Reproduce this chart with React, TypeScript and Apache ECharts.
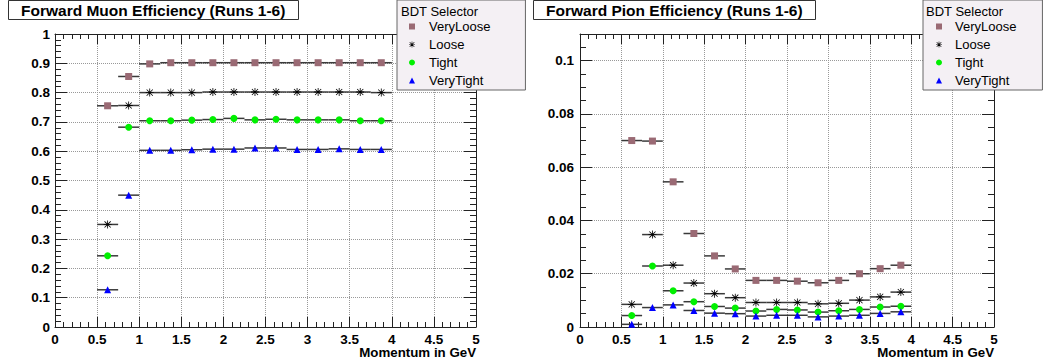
import React, { useEffect, useRef } from "react";
import * as echarts from "echarts";

// ---------- data ----------
const binCenters = [0.625, 0.875, 1.125, 1.375, 1.625, 1.875, 2.125, 2.375, 2.625, 2.875, 3.125, 3.375, 3.625, 3.875];
const binHalfWidth = 0.125;
const selectorNames = ["VeryLoose", "Loose", "Tight", "VeryTight"];

const muonVeryLoose = [0.755, 0.855, 0.898, 0.902, 0.902, 0.902, 0.902, 0.902, 0.902, 0.902, 0.902, 0.902, 0.902, 0.902];
const muonLoose = [0.35, 0.756, 0.8, 0.8, 0.8, 0.802, 0.802, 0.802, 0.802, 0.802, 0.802, 0.802, 0.802, 0.8];
const muonTight = [0.243, 0.682, 0.704, 0.704, 0.706, 0.708, 0.712, 0.707, 0.709, 0.707, 0.707, 0.707, 0.704, 0.704];
const muonVeryTight = [0.127, 0.45, 0.603, 0.603, 0.605, 0.607, 0.607, 0.611, 0.611, 0.606, 0.606, 0.608, 0.606, 0.606];

const pionVeryLoose = [0.07, 0.0698, 0.0545, 0.0351, 0.0267, 0.0218, 0.0175, 0.0175, 0.0172, 0.0166, 0.0175, 0.02, 0.0219, 0.0232];
const pionLoose = [0.0085, 0.0347, 0.0232, 0.0165, 0.0125, 0.011, 0.0092, 0.0092, 0.0092, 0.0087, 0.0089, 0.0101, 0.0113, 0.0131];
const pionTight = [0.0043, 0.0229, 0.0136, 0.0095, 0.0077, 0.0071, 0.006, 0.0066, 0.0064, 0.0056, 0.0061, 0.0066, 0.0075, 0.0078];
const pionVeryTight = [0.001, 0.0073, 0.0083, 0.0062, 0.0052, 0.005, 0.0041, 0.0044, 0.0044, 0.0038, 0.0041, 0.0044, 0.0051, 0.0057];

const xTicksMax = 5;
const muonYMax = 1;
const pionYMax = 0.11;

// ---------- styles ----------
const FONT = '"Liberation Sans", Arial, Helvetica, sans-serif';
const AXIS_COLOR = "#222";
const STAR_PATH =
  "path://M4.5,0 L5.5,0 L5.5,10 L4.5,10 Z M0,4.5 L10,4.5 L10,5.5 L0,5.5 Z M1.5,0.8 L9.2,8.5 L8.5,9.2 L0.8,1.5 Z M8.5,0.8 L9.2,1.5 L1.5,9.2 L0.8,8.5 Z";

const markerStyles: Record<string, { symbol: string; size: number; color: string }> = {
  VeryLoose: { symbol: "rect", size: 7, color: "#9a6a74" },
  Loose: { symbol: STAR_PATH, size: 8, color: "#000000" },
  Tight: { symbol: "circle", size: 7, color: "#00f000" },
  VeryTight: { symbol: "triangle", size: 7, color: "#0000ff" },
};

function makeXAxis(gridIndex: number, position: string, main: boolean) {
  return {
    type: "value",
    gridIndex,
    position,
    min: 0,
    max: xTicksMax,
    interval: 0.5,
    axisLine: { show: true, onZero: false, lineStyle: { color: AXIS_COLOR, width: 1 } },
    axisTick: { show: true, inside: true, length: 10, lineStyle: { color: AXIS_COLOR } },
    minorTick: { show: true, splitNumber: 5, length: 5, lineStyle: { color: AXIS_COLOR } },
    axisLabel: {
      show: main,
      fontFamily: FONT,
      fontWeight: "bold",
      fontSize: 13.5,
      color: "#000",
      margin: 5,
    },
    splitLine: { show: main, lineStyle: { color: "#999", type: "dotted", width: 1 } },
    minorSplitLine: { show: false },
  };
}

function makeYAxis(gridIndex: number, position: string, main: boolean, max: number, interval: number, minorSplit: number, margin: number) {
  return {
    type: "value",
    gridIndex,
    position,
    min: 0,
    max,
    interval,
    axisLine: { show: true, onZero: false, lineStyle: { color: AXIS_COLOR, width: 1 } },
    axisTick: { show: true, inside: true, length: 12, lineStyle: { color: AXIS_COLOR } },
    minorTick: { show: true, splitNumber: minorSplit, length: 6, lineStyle: { color: AXIS_COLOR } },
    axisLabel: {
      show: main,
      showMaxLabel: max === 1,
      fontFamily: FONT,
      fontWeight: "bold",
      fontSize: 13.5,
      color: "#000",
      margin,
    },
    splitLine: { show: main, lineStyle: { color: "#999", type: "dotted", width: 1 } },
    minorSplitLine: { show: false },
  };
}

function makeSeries(name: string, values: number[], xAxisIndex: number, yAxisIndex: number) {
  const data = binCenters.map((x, i) => [x, values[i]]);
  const m = markerStyles[name];
  const errBars = {
    type: "custom",
    name: name + " errors",
    xAxisIndex,
    yAxisIndex,
    data,
    z: 2,
    silent: true,
    renderItem: (params: any, api: any) => {
      const x = api.value(0);
      const y = api.value(1);
      const p1 = api.coord([x - binHalfWidth, y]);
      const p2 = api.coord([x + binHalfWidth, y]);
      return {
        type: "line",
        shape: { x1: p1[0], y1: p1[1], x2: p2[0], y2: p2[1] },
        style: { stroke: "#3a3a3a", lineWidth: 1.5 },
      };
    },
  };
  const markers = {
    type: "scatter",
    name,
    xAxisIndex,
    yAxisIndex,
    data,
    z: 3,
    symbol: m.symbol,
    symbolSize: m.size,
    itemStyle: { color: m.color, opacity: 1 },
  };
  return [errBars, markers];
}

function makeLegend(left: number, padLeft: number, padRight: number, textPad: number) {
  return {
    orient: "vertical",
    left,
    top: 0,
    padding: [20, padRight, 3, padLeft],
    itemGap: 5,
    itemWidth: 6,
    itemHeight: 6,
    selectedMode: false,
    backgroundColor: "#f4f0f4",
    borderColor: "#666",
    borderWidth: 1,
    borderRadius: 0,
    textStyle: { fontFamily: FONT, fontSize: 13, color: "#000", padding: [0, 0, 0, textPad] },
    data: selectorNames,
  };
}

function makeTitle(text: string, left: number) {
  return {
    text,
    left,
    top: 0,
    padding: [2, 13, 2, 13],
    backgroundColor: "#fff",
    borderColor: "#333",
    borderWidth: 1,
    textStyle: { fontFamily: FONT, fontWeight: "bold", fontSize: 15.5, color: "#000" },
  };
}

export default function App() {
  const ref = useRef<HTMLDivElement>(null);
  useEffect(() => {
    if (!ref.current) return;
    const chart = echarts.init(ref.current, undefined, { renderer: "svg" });
    const option: any = {
      animation: false,
      backgroundColor: "#ffffff",
      title: [
        makeTitle("Forward Muon Efficiency (Runs 1-6)", 8),
        makeTitle("Forward Pion Efficiency (Runs 1-6)", 533),
      ],
      legend: [makeLegend(397, 12, 35, 9), makeLegend(923, 13, 26, 8)],
      grid: [
        { left: 55, top: 34, width: 421, height: 293 },
        { left: 580, top: 34, width: 414, height: 293 },
      ],
      xAxis: [
        makeXAxis(0, "bottom", true),
        makeXAxis(0, "top", false),
        makeXAxis(1, "bottom", true),
        makeXAxis(1, "top", false),
      ],
      yAxis: [
        makeYAxis(0, "left", true, muonYMax, 0.1, 5, 5),
        makeYAxis(0, "right", false, muonYMax, 0.1, 5, 5),
        makeYAxis(1, "left", true, pionYMax, 0.02, 4, 6),
        makeYAxis(1, "right", false, pionYMax, 0.02, 4, 6),
      ],
      series: [
        ...makeSeries("VeryLoose", muonVeryLoose, 0, 0),
        ...makeSeries("Loose", muonLoose, 0, 0),
        ...makeSeries("Tight", muonTight, 0, 0),
        ...makeSeries("VeryTight", muonVeryTight, 0, 0),
        ...makeSeries("VeryLoose", pionVeryLoose, 2, 2),
        ...makeSeries("Loose", pionLoose, 2, 2),
        ...makeSeries("Tight", pionTight, 2, 2),
        ...makeSeries("VeryTight", pionVeryTight, 2, 2),
      ],
      graphic: {
        elements: [
          { type: "text", left: 401, top: 5, z: 100, style: { text: "BDT Selector", fontSize: 13, fontFamily: FONT, fill: "#000" } },
          { type: "text", left: 926, top: 5, z: 100, style: { text: "BDT Selector", fontSize: 13, fontFamily: FONT, fill: "#000" } },
          { type: "text", right: 1051 - 476, top: 346, z: 100, style: { text: "Momentum in GeV", fontSize: 13.3, fontWeight: "bold", fontFamily: FONT, fill: "#000" } },
          { type: "text", right: 1051 - 994, top: 346, z: 100, style: { text: "Momentum in GeV", fontSize: 13.3, fontWeight: "bold", fontFamily: FONT, fill: "#000" } },
        ],
      },
    };
    chart.setOption(option);
    return () => chart.dispose();
  }, []);
  return (
    <div
      ref={ref}
      style={{ position: "absolute", left: 0, top: 0, width: 1051, height: 364, background: "#fff" }}
    />
  );
}
